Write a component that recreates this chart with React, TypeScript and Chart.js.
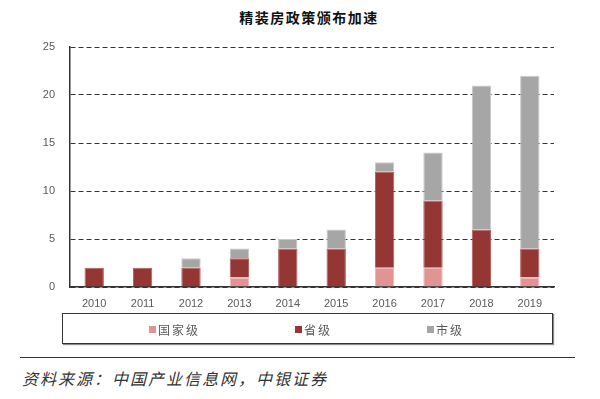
import React, { useEffect, useRef } from "react";
import { Chart, registerables } from "chart.js";
Chart.register(...registerables);

const years = ["2010", "2011", "2012", "2013", "2014", "2015", "2016", "2017", "2018", "2019"];
const national = [0, 0, 0, 1, 0, 0, 2, 2, 0, 1];
const provincial = [2, 2, 2, 2, 4, 4, 10, 7, 6, 3];
const municipal = [0, 0, 1, 1, 1, 2, 1, 5, 15, 18];
const seriesNames = ["国家级", "省级", "市级"];
const seriesColors = ["#E09494", "#943634", "#A6A6A6"];
const seriesBorders = ["#EBB4B4", "#B05A58", "#C8C8C8"];
const yMin = 0;
const yMax = 25;
const yStep = 5;
const title = "精装房政策颁布加速";
const source = "资料来源：中国产业信息网，中银证券";

const legendPos = [149, 295, 427];

export default function App() {
  const ref = useRef<HTMLCanvasElement>(null);
  useEffect(() => {
    const tickFont = { family: "'Liberation Sans', Arial, sans-serif", size: 11 };
    const chart = new Chart(ref.current!, {
      type: "bar",
      data: {
        labels: years,
        datasets: [national, provincial, municipal].map((d, i) => ({
          label: seriesNames[i],
          data: d,
          backgroundColor: seriesColors[i],
          borderColor: seriesBorders[i],
          borderWidth: 1,
          categoryPercentage: 0.4,
          barPercentage: 1,
        })),
      },
      options: {
        animation: false,
        responsive: false,
        maintainAspectRatio: false,
        layout: { padding: { top: 47, right: 46, left: 0, bottom: 0 } },
        plugins: { legend: { display: false }, tooltip: { enabled: false }, title: { display: false } },
        scales: {
          x: {
            stacked: true,
            grid: { display: false, drawTicks: false },
            border: { display: true, color: "#333", width: 1.5 },
            ticks: { color: "#595959", font: tickFont, padding: 10, maxRotation: 0, autoSkip: false },
            afterFit: (s: any) => {
              s.height = 33;
            },
          },
          y: {
            stacked: true,
            min: yMin,
            max: yMax,
            ticks: { stepSize: yStep, padding: 15, color: "#595959", font: tickFont },
            grid: { color: "#333", drawTicks: false, lineWidth: 1 },
            border: { display: true, color: "#333", width: 1.5, dash: [5, 3] },
            afterFit: (s: any) => {
              s.width = 70;
            },
          },
        },
      },
    });
    return () => chart.destroy();
  }, []);

  const cjk = "'Noto Sans CJK SC', 'Noto Sans', sans-serif";
  return (
    <div style={{ position: "fixed", left: 0, top: 0, width: 600, height: 399, background: "#fff", overflow: "hidden" }}>
      <div
        style={{
          position: "absolute",
          left: 0,
          width: 618,
          top: 7,
          textAlign: "center",
          fontFamily: cjk,
          fontWeight: "bold",
          fontSize: 14,
          letterSpacing: 1.5,
          lineHeight: "20px",
          color: "#111",
        }}
      >
        {title}
      </div>
      <canvas ref={ref} width={600} height={320} style={{ position: "absolute", left: 0, top: 0, width: 600, height: 320 }} />
      <div
        style={{
          position: "absolute",
          left: 62,
          top: 313,
          width: 489,
          height: 29,
          border: "1px solid #333",
          boxShadow: "1px 1px 1px rgba(0,0,0,0.45)",
        }}
      />
      {seriesNames.map((n, i) => (
        <div
          key={n}
          style={{
            position: "absolute",
            left: legendPos[i],
            top: 321,
            height: 16,
            display: "flex",
            alignItems: "center",
            fontFamily: cjk,
            fontSize: 12,
            letterSpacing: 2,
            color: "#595959",
            whiteSpace: "nowrap",
          }}
        >
          <span style={{ display: "inline-block", width: 7, height: 7, background: seriesColors[i], marginRight: 2 }} />
          {n}
        </div>
      ))}
      <div style={{ position: "absolute", left: 20, top: 357, width: 555, height: 0, borderTop: "1.5px solid #333" }} />
      <div
        style={{
          position: "absolute",
          left: 22,
          top: 367,
          lineHeight: "22px",
          fontFamily: cjk,
          fontStyle: "italic",
          fontSize: 16,
          letterSpacing: 2,
          color: "#333",
          whiteSpace: "nowrap",
        }}
      >
        {source}
      </div>
    </div>
  );
}
